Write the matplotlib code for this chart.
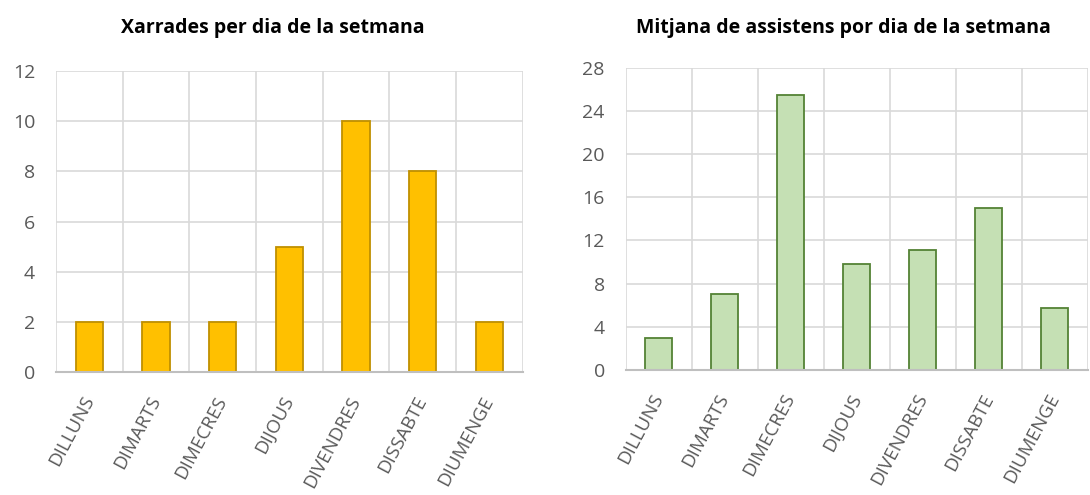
import numpy as np
import matplotlib.pyplot as plt
import matplotlib as mpl
mpl.rcParams.update({'font.family': ['Open Sans', 'DejaVu Sans']})

dies = ['DILLUNS', 'DIMARTS', 'DIMECRES', 'DIJOUS', 'DIVENDRES', 'DISSABTE', 'DIUMENGE']
xarrades = [2, 2, 2, 5, 10, 8, 2]
assistents = [3, 7, 25.5, 9.8, 11.1, 15, 5.7]

grid_c = '#D9D9D9'
text_c = '#595959'

fig = plt.figure(figsize=(10.9, 4.95), dpi=100)
ax1 = fig.add_axes([0.0514, 0.248, 0.428, 0.609])
ax2 = fig.add_axes([0.574, 0.2525, 0.424, 0.611])

def style(ax, vals, ymax, step, fc, ec):
    x = np.arange(len(dies))
    ax.bar(x, vals, width=0.41, color=fc, edgecolor=ec, linewidth=1.3, zorder=3)
    ax.set_xlim(-0.5, len(dies) - 0.5)
    ax.set_ylim(0, ymax)
    ax.set_yticks(np.arange(0, ymax + 1, step))
    for yv in np.arange(step, ymax + 1, step):
        ax.axhline(yv, color=grid_c, lw=1.2, zorder=1)
    for xv in np.arange(-0.5, len(dies), 1.0):
        ax.axvline(xv, color=grid_c, lw=1.2, zorder=1)
    for s in ['top', 'right', 'left']:
        ax.spines[s].set_visible(False)
    ax.spines['bottom'].set_color('#BFBFBF')
    ax.spines['bottom'].set_linewidth(1.5)
    ax.spines['bottom'].set_zorder(4)
    ax.set_xticks(x)
    ax.set_xticklabels(dies, rotation=62, ha='right', va='center',
                       rotation_mode='anchor', fontsize=13.5, color=text_c)
    ax.tick_params(axis='x', length=0, pad=18)
    ax.tick_params(axis='y', length=0, labelsize=14, labelcolor=text_c, pad=15)

style(ax1, xarrades, 12, 2, '#FFC000', '#BF9000')
style(ax2, assistents, 28, 4, '#C5E0B4', '#548235')

fig.text(273 / 1090, 1 - 28 / 495, 'Xarrades per dia de la setmana',
         ha='center', va='center', fontsize=14, fontweight='bold')
fig.text(843 / 1090, 1 - 28 / 495, 'Mitjana de assistens por dia de la setmana',
         ha='center', va='center', fontsize=14, fontweight='bold')

fig.savefig('out.png', dpi=100)
